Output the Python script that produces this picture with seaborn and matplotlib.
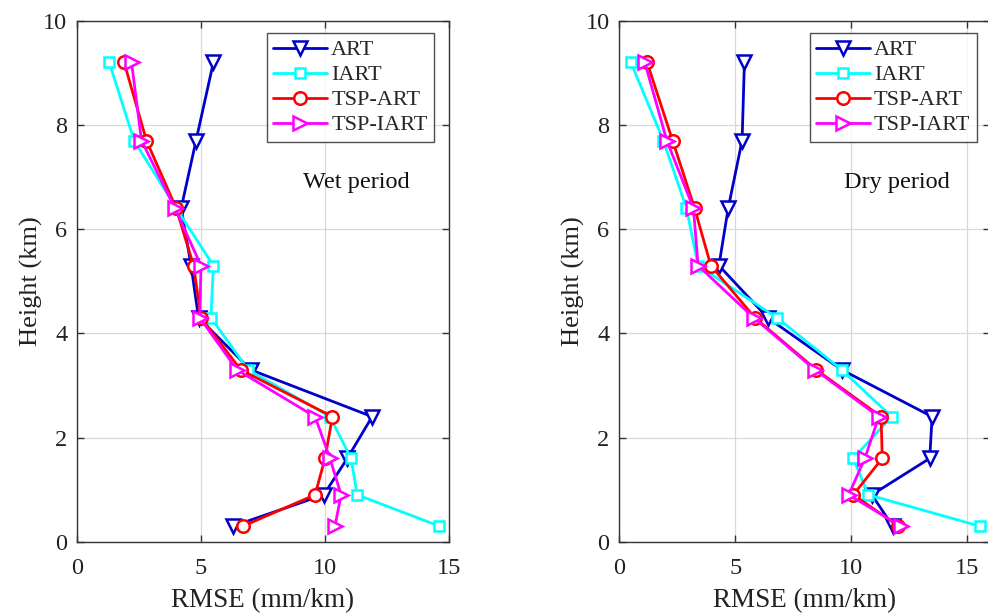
import numpy as np
import pandas as pd
import matplotlib
matplotlib.use("Agg")
import matplotlib.pyplot as plt
import seaborn as sns

sns.set_theme(style="white")
plt.rcParams["font.family"] = ["Liberation Serif", "DejaVu Serif"]
plt.rcParams["mathtext.fontset"] = "stix"

# Heights of the layers (km)
heights = [9.2, 7.7, 6.4, 5.3, 4.3, 3.3, 2.4, 1.6, 0.9, 0.3]

methods = ["ART", "IART", "TSP-ART", "TSP-IART"]

# RMSE (mm/km), wet period
wet_art = [5.5, 4.8, 4.2, 4.6, 4.9, 7.0, 11.9, 10.9, 9.95, 6.3]
wet_iart = [1.3, 2.3, 4.0, 5.5, 5.4, 6.9, 10.2, 11.05, 11.3, 14.6]
wet_tsp_art = [1.9, 2.8, 4.0, 4.7, 5.0, 6.6, 10.3, 10.0, 9.6, 6.7]
wet_tsp_iart = [2.2, 2.6, 3.95, 5.0, 4.95, 6.45, 9.6, 10.2, 10.65, 10.4]

# RMSE (mm/km), dry period
dry_art = [5.4, 5.3, 4.7, 4.3, 6.4, 9.6, 13.5, 13.4, 10.9, 11.8]
dry_iart = [0.5, 1.9, 2.9, 3.4, 6.8, 9.6, 11.75, 10.1, 10.75, 15.55]
dry_tsp_art = [1.2, 2.3, 3.25, 3.95, 5.85, 8.5, 11.3, 11.35, 10.1, 12.05]
dry_tsp_iart = [1.1, 2.05, 3.2, 3.4, 5.8, 8.45, 11.2, 10.6, 9.9, 12.15]

colors = {"ART": "#0000C8", "IART": "#00FFFF", "TSP-ART": "#FF0000", "TSP-IART": "#FF00FF"}
markers = {"ART": "v", "IART": "s", "TSP-ART": "o", "TSP-IART": ">"}
msizes = {"ART": 10.5, "IART": 7, "TSP-ART": 9, "TSP-IART": 10.5}


def long_frame(values):
    rows = []
    for name, vals in zip(methods, values):
        for h, v in zip(heights, vals):
            rows.append({"method": name, "height": h, "rmse": v})
    return pd.DataFrame(rows)


wet = long_frame([wet_art, wet_iart, wet_tsp_art, wet_tsp_iart])
dry = long_frame([dry_art, dry_iart, dry_tsp_art, dry_tsp_iart])

fig = plt.figure(figsize=(9.88, 6.14), dpi=100)
ax1 = fig.add_axes([77 / 988, 72.3 / 614, 372 / 988, 521 / 614])
ax2 = fig.add_axes([619.3 / 988, 72.3 / 614, 370.7 / 988, 521 / 614])

spine_col = "#333333"


def draw(ax, df, xmax, label_text, text_x, leg_x):
    for name in methods:
        sub = df[df["method"] == name]
        sns.lineplot(data=sub, x="rmse", y="height", sort=False, estimator=None,
                     ax=ax, color=colors[name], marker=markers[name],
                     markersize=msizes[name], markerfacecolor="white",
                     markeredgecolor=colors[name], markeredgewidth=1.8,
                     linewidth=2.0, label=name)
    ax.set_xlim(0, xmax)
    ax.set_ylim(0, 10)
    ax.set_xticks([0, 5, 10, 15])
    ax.set_yticks([0, 2, 4, 6, 8, 10])
    ax.grid(True, color="#d9d9d9", linewidth=0.9)
    ax.set_axisbelow(True)
    for s in ax.spines.values():
        s.set_color(spine_col)
        s.set_linewidth(1.0)
        s.set_visible(True)
    ax.tick_params(direction="in", length=5, width=1.0, colors=spine_col,
                   labelcolor="#222222", labelsize=17.5, top=True, right=True,
                   bottom=True, left=True)
    ax.tick_params(axis="x", pad=12)
    ax.tick_params(axis="y", pad=7)
    ax.set_xlabel("RMSE (mm/km)", fontsize=19.5, color="#222222", labelpad=6)
    ax.set_ylabel("Height (km)", fontsize=19, color="#222222", labelpad=0)
    ax.text(text_x, 6.9, label_text, fontsize=17.5, color="#111111",
            ha="left", va="center")
    leg = ax.legend(loc="upper right", bbox_to_anchor=(leg_x, 0.976),
                    fontsize=16, frameon=True, fancybox=False,
                    handlelength=2.4, handletextpad=0.2, borderpad=0.3,
                    labelspacing=0.2, borderaxespad=0.0)
    leg.get_frame().set_edgecolor("#222222")
    leg.get_frame().set_linewidth(1.0)


draw(ax1, wet, 15, "Wet period", 9.1, 0.96)
draw(ax2, dry, 16, "Dry period", 9.7, 0.965)

fig.savefig("out.png", dpi=100)
